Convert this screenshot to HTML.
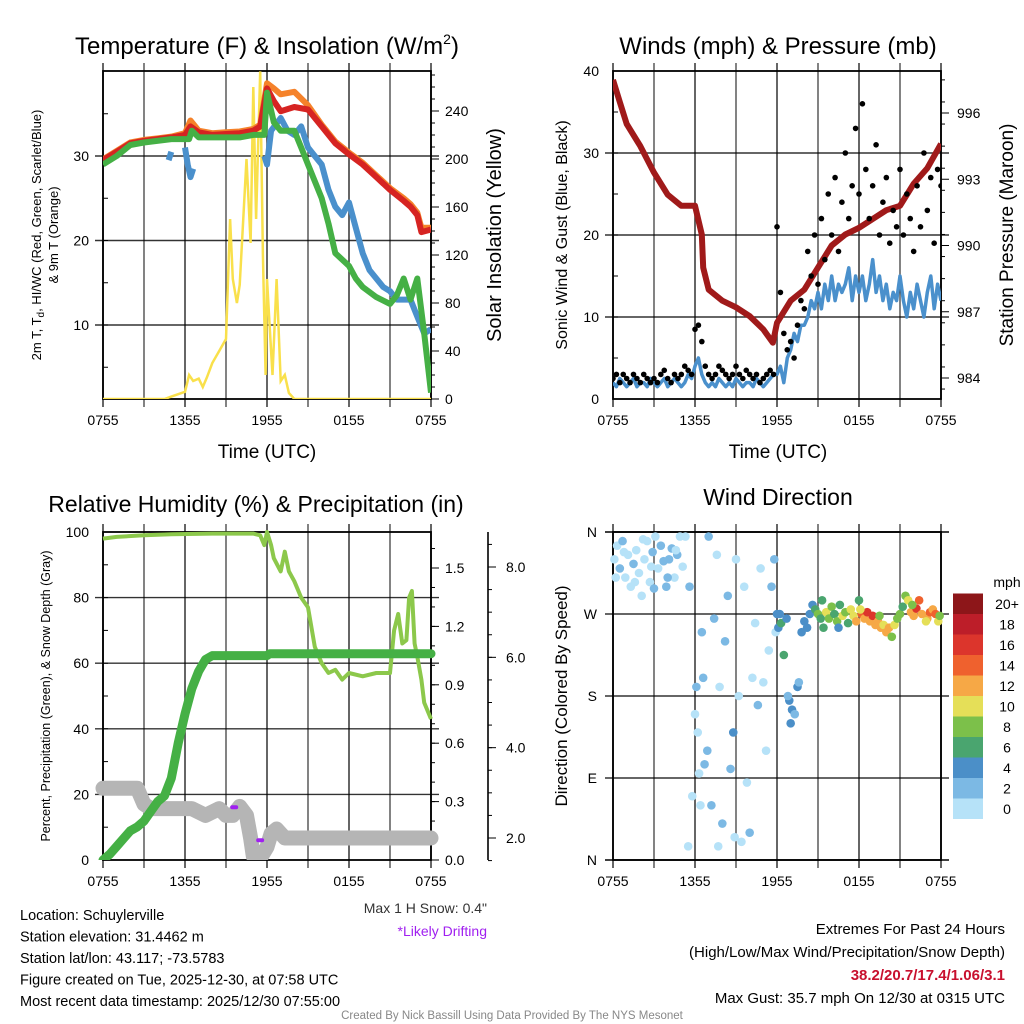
<!DOCTYPE html>
<html><head><meta charset="utf-8"><style>
html,body{margin:0;padding:0;background:#fff}
svg{display:block;font-family:"Liberation Sans",sans-serif}
</style></head><body>
<svg id="s" width="1024" height="1024" viewBox="0 0 1024 1024"></svg>
<script>
// ---------- DATA ----------
const timeTicks=["0755","1355","1955","0155","0755"];
const tempT=[0,1,2,3,4,5,6,6.4,7,8,9,10,11,11.5,12,12.5,13,14,15,16,17,18,19,20,21,22,22.5,23,23.3,24];
const tempRed=[29.5,30.5,31.5,31.8,32,32.2,32.5,33.5,32.8,32.5,32.6,32.7,33,33.5,38,36.5,35.3,35.8,35.5,33.5,31.5,30.2,29,27.5,26,24.7,24,23,21,21.3];
const tempOrange=[29.6,30.6,31.6,31.9,32.1,32.3,32.7,34.2,33,32.7,32.8,32.9,33.2,33.7,38.6,38,37.3,37.6,36,33.7,31.7,30.4,29.2,27.7,26.2,25,24.3,23.3,21.5,21.5];
const dewT=[0,1,2,3,5,6.3,6.5,7,10,11,11.8,12,12.5,13,14,14.5,15,16,16.5,17,18,18.5,19,20,21,21.5,22,22.5,23,23.5,24];
const dewVals=[29,30,31.3,31.6,32,32,33,32.2,32.2,32.5,32.5,37.5,34,33,33,31,29,25,22,18.5,17,15.5,14.5,13.3,12.5,13.5,15.5,13,15.5,9,2];
const wcT=[[4.8,5.0],[6.0,6.2,6.4,6.6],[11.8,12,12.3,13,13.5,14,14.5,15,15.5,16,16.5,17,17.5,18,18.5,19,19.5,20,20.5,21,21.5,22,22.5,23,23.5,24]];
const wcVals=[[29.5,30.5],[31,29,27.5,28.5],[30,29,33,34.5,33,32.5,33.5,31,30,29,26,24,23,24.5,21.5,18.5,16.5,15.5,14.5,14,13,13,13,11,9,9.5]];
const solT=[0,4.5,5,6,6.3,6.6,7,7.3,7.6,8,8.5,9,9.3,9.5,9.8,10,10.5,10.8,11,11.2,11.5,11.7,11.9,12,12.2,12.4,12.7,13,13.3,13.6,14,24];
const solVals=[0,0,2,6,20,15,17,10,18,30,40,50,150,100,80,95,200,130,260,150,273,120,20,100,60,20,100,15,20,5,0,0];
const windVals=[2,1.5,2.5,2,1.5,2,2.5,1.5,2,2,1.5,2.5,2,1.5,2,2.5,1.5,2,2.5,2,1.5,2,3,2.5,4,5,3,2,1.5,2,1.5,2.5,2,1.5,2,1.5,2.5,2,1.5,2,2,1.5,2.5,2,1.5,2,2.5,3,3,4,2,5,6,8,7,9,9,10,12,11,13,11,14,12,15,12,14,13,14,16,12,15,13,15,12,14,17,13,15,12,14,11,13,12,15,12,10,13,11,14,12,10,13,15,11,14,12];
const gustVals=[2.5,3,2,3,2.5,2,3,2.5,2,3,2.5,2,2.5,2,3,3.5,2.5,2,3,2.5,3,4,3.5,3,8.5,9,7,4,3,2.5,3,4,3.5,3,2.5,3,4,3,2.5,3.5,3,2.5,3,2,2.5,3,3.5,3,21,13,8,6,7,5,9,12,11,18,15,20,14,22,17,25,20,27,18,24,30,22,26,33,25,36,28,22,26,31,20,24,27,19,23,21,28,20,25,22,18,26,21,30,23,27,19,28,26];
const presT=[0,0.5,1,2,3,4,5,6,6.5,6.6,7,8,9,10,11,11.7,12,13,14,15,16,17,18,19,20,21,22,23,24];
const presVals=[997.5,996.5,995.5,994.5,993.3,992.3,991.8,991.8,990.5,989,988,987.5,987.2,986.8,986.2,985.6,986.5,987.5,988,989,990,990.5,990.8,991.2,991.6,991.8,992.8,993.5,994.6];
const rhT=[0,1,3,5,8,11,11.5,11.8,12,12.3,12.5,13,13.3,13.6,14,14.5,15,15.5,16,16.5,17,17.5,18,19,20,21,21.3,21.6,21.9,22.2,22.4,22.6,22.8,23,23.3,23.5,24];
const rhVals=[98,98.5,99,99.3,99.5,99.5,99,96,100,96,92,88,94,88,85,80,77,65,60,57,58,55,57,56,57,57,70,75,66,67,80,82,66,62,55,48,43];
const precT=[0,0.5,1,1.5,2,2.5,3,3.5,4,4.5,5,5.5,6,6.5,7,7.5,8,12,12.2,24];
const precVals=[0,0.03,0.07,0.11,0.15,0.17,0.2,0.25,0.3,0.33,0.42,0.6,0.75,0.88,0.97,1.03,1.05,1.05,1.06,1.06];
const snowT=[0,2.5,3,3.5,5,6.5,7.5,8.5,9,9.5,10,10.5,10.8,11,11.5,12,12.3,12.7,13.3,24];
const snowVals=[3.1,3.1,2.75,2.65,2.65,2.65,2.5,2.65,2.5,2.5,2.7,2.5,2.0,1.6,1.55,1.8,2.1,2.2,2.0,2.0];
const driftT=[9.6,11.5];
const driftVals=[2.68,1.95];
const dirT=[0.1,0.3,0.5,0.7,0.9,1.1,1.3,1.5,1.7,1.9,2.1,2.3,2.5,2.7,2.9,3.1,3.3,3.5,3.7,3.9,4.1,4.3,4.5,4.7,4.9,5.1,0.2,0.8,1.6,2.2,2.8,3.0,4.0,4.6,
5.3,5.6,5.8,6.0,6.1,6.2,6.3,6.4,6.5,6.6,6.7,6.9,7.0,7.2,7.4,7.6,7.8,8.0,8.2,8.4,8.6,8.8,9.0,9.2,9.4,9.6,9.8,10.0,10.2,10.4,10.6,10.8,11.0,11.2,11.4,11.6,11.8,11.9,5.5,7.7,8.9,
12.0,12.1,12.3,12.5,12.7,12.9,13.1,13.3,13.5,13.6,13.8,14.0,14.2,14.4,14.6,12.2,12.8,13.0,
14.8,15.0,15.2,15.4,15.6,15.8,16.0,16.2,16.4,16.6,16.8,17.0,17.2,17.4,17.6,17.8,18.0,18.2,18.4,18.6,18.8,19.0,19.2,19.4,19.6,19.8,20.0,20.2,20.4,20.6,20.8,21.0,21.2,21.4,21.6,21.8,22.0,22.2,22.4,22.6,15.3,16.5,18.1,19.5,21.9,23.0,23.2,23.4,23.6,23.8,23.9,22.9];
const dirDeg=[330,345,320,350,310,335,300,325,340,315,290,330,350,305,338,355,320,345,328,300,330,342,310,335,355,322,310,338,305,352,322,298,310,340,
355,300,70,160,190,140,95,60,250,200,105,120,355,60,265,335,190,40,240,290,100,140,330,180,20,300,85,30,200,260,170,320,195,120,230,300,330,250,15,15,25,
270,255,260,225,265,175,165,160,190,195,250,262,255,270,280,270,180,150,
275,270,265,255,272,265,278,270,262,280,268,272,260,275,268,262,285,270,265,272,262,268,258,262,255,258,250,255,245,258,265,270,278,290,285,272,268,276,285,270,285,255,275,268,280,265,272,275,270,262,268,262];
const dirSpd=[1,1,2,3,1,0,1,2,1,0,0,1,0,1,2,0,1,2,3,3,2,3,1,2,0,1,0,1,0,0,1,2,2,1,
0,2,0,1,3,0,0,1,3,2,3,3,2,2,2,0,1,2,2,2,2,4,1,0,0,1,1,2,1,1,3,0,0,1,0,2,3,1,0,1,1,
5,4,6,6,4,4,4,3,4,3,4,4,4,4,5,4,3,4,
6,8,7,6,10,8,8,7,9,6,10,8,7,11,10,12,6,14,13,17,12,16,12,13,12,11,13,12,8,10,9,8,7,8,10,12,13,16,14,13,7,5,10,9,9,12,14,13,15,10,9,11];
const cbLabels=["0","2","4","6","8","10","12","14","16","18","20+"];
const cbColors=["#b6e2f8","#7cb9e4","#4b8fc8","#4aa56f","#7cc04a","#e5df58","#f6a846","#ef612e","#dc352c","#bd1e29","#8d1619"];

// ---------- HELPERS ----------
const NS="http://www.w3.org/2000/svg";
const svg=document.getElementById('s');
function el(tag,attrs,parent,txt){const e=document.createElementNS(NS,tag);for(const k in attrs)e.setAttribute(k,attrs[k]);if(txt!==undefined)e.textContent=txt;(parent||svg).appendChild(e);return e;}
function grp(name){const g=el('g',{});return g;}
function lin(d0,d1,r0,r1){return v=>r0+(v-d0)/(d1-d0)*(r1-r0);}
function pathD(xs,ys,fx,fy){return xs.map((t,i)=>(i?'L':'M')+fx(t).toFixed(1)+','+fy(ys[i]).toFixed(1)).join('');}
function txt(g,x,y,s,size,anchor,extra){const a=Object.assign({x:x,y:y,'font-size':size,'text-anchor':anchor||'middle',fill:'#000'},extra||{});return el('text',a,g,s);}

function frame(g,L,T,R,B,hGrid){
  for(let i=0;i<=8;i++){const x=L+(R-L)*i/8;el('line',{x1:x,y1:T-8,x2:x,y2:B+8,stroke:'#000','stroke-width':i%2?1.3:1.6,'stroke-opacity':0.75},g);}
  hGrid.forEach(y=>el('line',{x1:L-8,y1:y,x2:R+8,y2:y,stroke:'#000','stroke-width':1.4,'stroke-opacity':0.8},g));
  el('rect',{x:L,y:T,width:R-L,height:B-T,fill:'none',stroke:'#000','stroke-width':1.8},g);
  timeTicks.forEach((s,i)=>txt(g,L+(R-L)*i/4,B+26,s,14));
}
function minorTicks(g,x,y0,y1,n,dir){for(let i=0;i<=n;i++){const y=y0+(y1-y0)*i/n;el('line',{x1:x,y1:y,x2:x+dir*5,y2:y,stroke:'#000','stroke-width':1},g);}}

// ========== PANEL 1 ==========
(function(){
const L=103,T=71,R=431,B=399;
const g=grp('temperature-panel');
const fx=lin(0,24,L,R), fy=lin(10,30,325,156), fs=lin(0,240,399,111);
txt(g,267,54,'Temperature (F) & Insolation (W/m',24);
const tt=g.lastChild; el('tspan',{'font-size':14,dy:-10},tt,'2'); el('tspan',{dy:10},tt,')');
frame(g,L,T,R,B,[fy(10),fy(20),fy(30)]);
[10,20,30].forEach(v=>txt(g,L-14,fy(v)+5,String(v),14,'end'));
minorTicks(g,L,fy(35),fy(5),6,1);
[0,40,80,120,160,200,240].forEach(v=>{el('line',{x1:R,y1:fs(v),x2:R+8,y2:fs(v),stroke:'#000'},g);txt(g,R+14,fs(v)+5,String(v),14,'start');});
for(let v=10;v<=270;v+=10)el('line',{x1:R,y1:fs(v),x2:R+4,y2:fs(v),stroke:'#000'},g);
txt(g,267,458,'Time (UTC)',19);
const yl=el('text',{transform:'translate(41,235) rotate(-90)','font-size':13,'text-anchor':'middle'},g,'2m T, T');
el('tspan',{'font-size':10,dy:3},yl,'d');el('tspan',{dy:-3},yl,', HI/WC (Red, Green, Scarlet/Blue)');
el('text',{transform:'translate(58,235) rotate(-90)','font-size':13,'text-anchor':'middle'},g,'& 9m T (Orange)');
el('text',{transform:'translate(501,235) rotate(-90)','font-size':20,'text-anchor':'middle'},g,'Solar Insolation (Yellow)');
const cp=el('clipPath',{id:'c1'},g);el('rect',{x:L,y:T,width:R-L,height:B-T},cp);
const pg=el('g',{'clip-path':'url(#c1)'},g);
const sol=el('path',{d:pathD(solT,solVals,fx,fs),fill:'none',stroke:'#f9e04b','stroke-width':2.5},pg);

const o=el('path',{d:pathD(tempT,tempOrange,fx,fy),fill:'none',stroke:'#f5822a','stroke-width':6,'stroke-linejoin':'round'},pg);

const r=el('path',{d:pathD(tempT,tempRed,fx,fy),fill:'none',stroke:'#d62422','stroke-width':6,'stroke-linejoin':'round'},pg);

wcT.forEach((ts,i)=>{const b=el('path',{d:pathD(ts,wcVals[i],fx,fy),fill:'none',stroke:'#4a90cc','stroke-width':6,'stroke-linejoin':'round'},pg);
});
const d=el('path',{d:pathD(dewT,dewVals,fx,fy),fill:'none',stroke:'#45b045','stroke-width':6,'stroke-linejoin':'round'},pg);

})();

// ========== PANEL 2 ==========
(function(){
const L=613,T=71,R=941,B=399;
const g=grp('winds-panel');
const fx=lin(0,24,L,R), fy=lin(0,40,B,T), fp=lin(984,996,378,113);
txt(g,778,54,'Winds (mph) & Pressure (mb)',24);
frame(g,L,T,R,B,[fy(10),fy(20),fy(30)]);
[0,10,20,30,40].forEach(v=>txt(g,L-14,fy(v)+5,String(v),14,'end'));
minorTicks(g,L,fy(40),fy(0),8,1);
[984,987,990,993,996].forEach(v=>{el('line',{x1:R,y1:fp(v),x2:R+8,y2:fp(v),stroke:'#000'},g);txt(g,R+16,fp(v)+5,String(v),14,'start');});
for(let v=983.5;v<=998;v+=1)el('line',{x1:R,y1:fp(v),x2:R+4,y2:fp(v),stroke:'#000'},g);
txt(g,778,458,'Time (UTC)',19);
el('text',{transform:'translate(567,235) rotate(-90)','font-size':16,'text-anchor':'middle'},g,'Sonic Wind & Gust (Blue, Black)');
el('text',{transform:'translate(1013,235) rotate(-90)','font-size':19,'text-anchor':'middle'},g,'Station Pressure (Maroon)');
const cp=el('clipPath',{id:'c2'},g);el('rect',{x:L,y:T,width:R-L,height:B-T},cp);
const pg=el('g',{'clip-path':'url(#c2)'},g);
const wt=windVals.map((v,i)=>i*0.25);
const w=el('path',{d:pathD(wt,windVals,fx,fy),fill:'none',stroke:'#4a90cc','stroke-width':3.5,'stroke-linejoin':'round'},pg);

const p=el('path',{d:pathD(presT,presVals,fx,fp),fill:'none',stroke:'#a01a1a','stroke-width':6,'stroke-linejoin':'round'},pg);

gustVals.forEach((v,i)=>{const c=el('circle',{cx:fx(i*0.25),cy:fy(v),r:2.8,fill:'#000'},pg);
});
})();

// ========== PANEL 3 ==========
(function(){
const L=103,T=532,R=431,B=860;
const g=grp('humidity-panel');
const fx=lin(0,24,L,R), fy=lin(0,100,B,T), fpr=lin(0,1.5,B,568), fsn=lin(2,8,838,567);
txt(g,256,512,'Relative Humidity (%) & Precipitation (in)',23);
frame(g,L,T,R,B,[fy(20),fy(40),fy(60),fy(80)]);
[0,20,40,60,80,100].forEach(v=>txt(g,L-14,fy(v)+5,String(v),14,'end'));
minorTicks(g,L,fy(100),fy(0),10,1);
[0,0.3,0.6,0.9,1.2,1.5].forEach(v=>{el('line',{x1:R,y1:fpr(v),x2:R+8,y2:fpr(v),stroke:'#000'},g);txt(g,R+14,fpr(v)+5,v.toFixed(1),14,'start');});
for(let v=0.1;v<1.7;v+=0.1)el('line',{x1:R,y1:fpr(v),x2:R+4,y2:fpr(v),stroke:'#000'},g);
el('line',{x1:488,y1:532,x2:488,y2:860,stroke:'#000','stroke-width':1.6},g);
[2,4,6,8].forEach(v=>{el('line',{x1:488,y1:fsn(v),x2:496,y2:fsn(v),stroke:'#000'},g);txt(g,506,fsn(v)+5,v.toFixed(1),14,'start');});
for(let v=1.5;v<=8.8;v+=0.5)el('line',{x1:488,y1:fsn(v),x2:492,y2:fsn(v),stroke:'#000'},g);
el('text',{transform:'translate(50,696) rotate(-90)','font-size':12.5,'text-anchor':'middle'},g,'Percent, Precipitation (Green), & Snow Depth (Gray)');
const cp=el('clipPath',{id:'c3'},g);el('rect',{x:L-10,y:T-10,width:R-L+20,height:B-T+10},cp);
const pg=el('g',{'clip-path':'url(#c3)'},g);
const s=el('path',{d:pathD(snowT,snowVals,fx,fsn),fill:'none',stroke:'#b5b5b5','stroke-width':15,'stroke-linejoin':'round','stroke-linecap':'round'},pg);

driftT.forEach((t,i)=>{const m=el('rect',{x:fx(t)-4,y:fsn(driftVals[i])-2,width:8,height:4,rx:2,fill:'#a020f0'},pg);
});
const h=el('path',{d:pathD(rhT,rhVals,fx,fy),fill:'none',stroke:'#8cc84b','stroke-width':4,'stroke-linejoin':'round'},pg);

const pr=el('path',{d:pathD(precT,precVals,fx,fpr),fill:'none',stroke:'#45b045','stroke-width':9,'stroke-linejoin':'round','stroke-linecap':'round'},pg);

txt(g,487,913,'Max 1 H Snow: 0.4"',14,'end',{fill:'#333'});
txt(g,487,936,'*Likely Drifting',14,'end',{fill:'#a020f0'});
})();

// ========== PANEL 4 ==========
(function(){
const L=613,T=532,R=941,B=860;
const g=grp('wind-direction-panel');
const fx=lin(0,24,L,R), fy=lin(0,360,B,T);
txt(g,778,505,'Wind Direction',23);
frame(g,L,T,R,B,[fy(90),fy(180),fy(270)]);
el('line',{x1:L-8,y1:T,x2:R+8,y2:T,stroke:'#000','stroke-width':1.4},g);
el('line',{x1:L-8,y1:B,x2:R+8,y2:B,stroke:'#000','stroke-width':1.4},g);
['N','E','S','W','N'].forEach((s,i)=>txt(g,L-16,fy(i*90)+5,s,14,'end'));
el('text',{transform:'translate(567,696) rotate(-90)','font-size':17,'text-anchor':'middle'},g,'Direction (Colored By Speed)');
const pg=el('g',{},g);
dirT.forEach((t,i)=>{const ci=Math.min(10,Math.floor(dirSpd[i]/2));
const c=el('circle',{cx:fx(t),cy:fy(dirDeg[i]),r:4.3,fill:cbColors[ci]},pg);
});
const cb=grp('speed-colorbar');
const h=20.5;
cbColors.forEach((c,i)=>{el('rect',{x:953,y:819-h*(i+1),width:30,height:h,fill:c},cb);
txt(cb,1007,819-h*i-h/2+5,cbLabels[i],14,'middle');});
txt(cb,1007,587,'mph',14,'middle');
})();

// ========== FOOTER ==========
(function(){
const g=grp('station-info');
['Location: Schuylerville','Station elevation: 31.4462 m','Station lat/lon: 43.117; -73.5783','Figure created on Tue, 2025-12-30, at 07:58 UTC','Most recent data timestamp: 2025/12/30 07:55:00'].forEach((s,i)=>txt(g,20,920+i*21.5,s,14.5,'start'));
const e=grp('extremes-summary');
txt(e,1005,934,'Extremes For Past 24 Hours',15,'end');
txt(e,1005,957,'(High/Low/Max Wind/Precipitation/Snow Depth)',15,'end');
txt(e,1005,980,'38.2/20.7/17.4/1.06/3.1',15,'end',{fill:'#c8102e','font-weight':'bold'});
txt(e,1005,1003,'Max Gust: 35.7 mph On 12/30 at 0315 UTC',15,'end');
const c=grp('credit');
txt(c,512,1019,'Created By Nick Bassill Using Data Provided By The NYS Mesonet',11.5,'middle',{fill:'#888'});
})();
</script>
</body></html>
